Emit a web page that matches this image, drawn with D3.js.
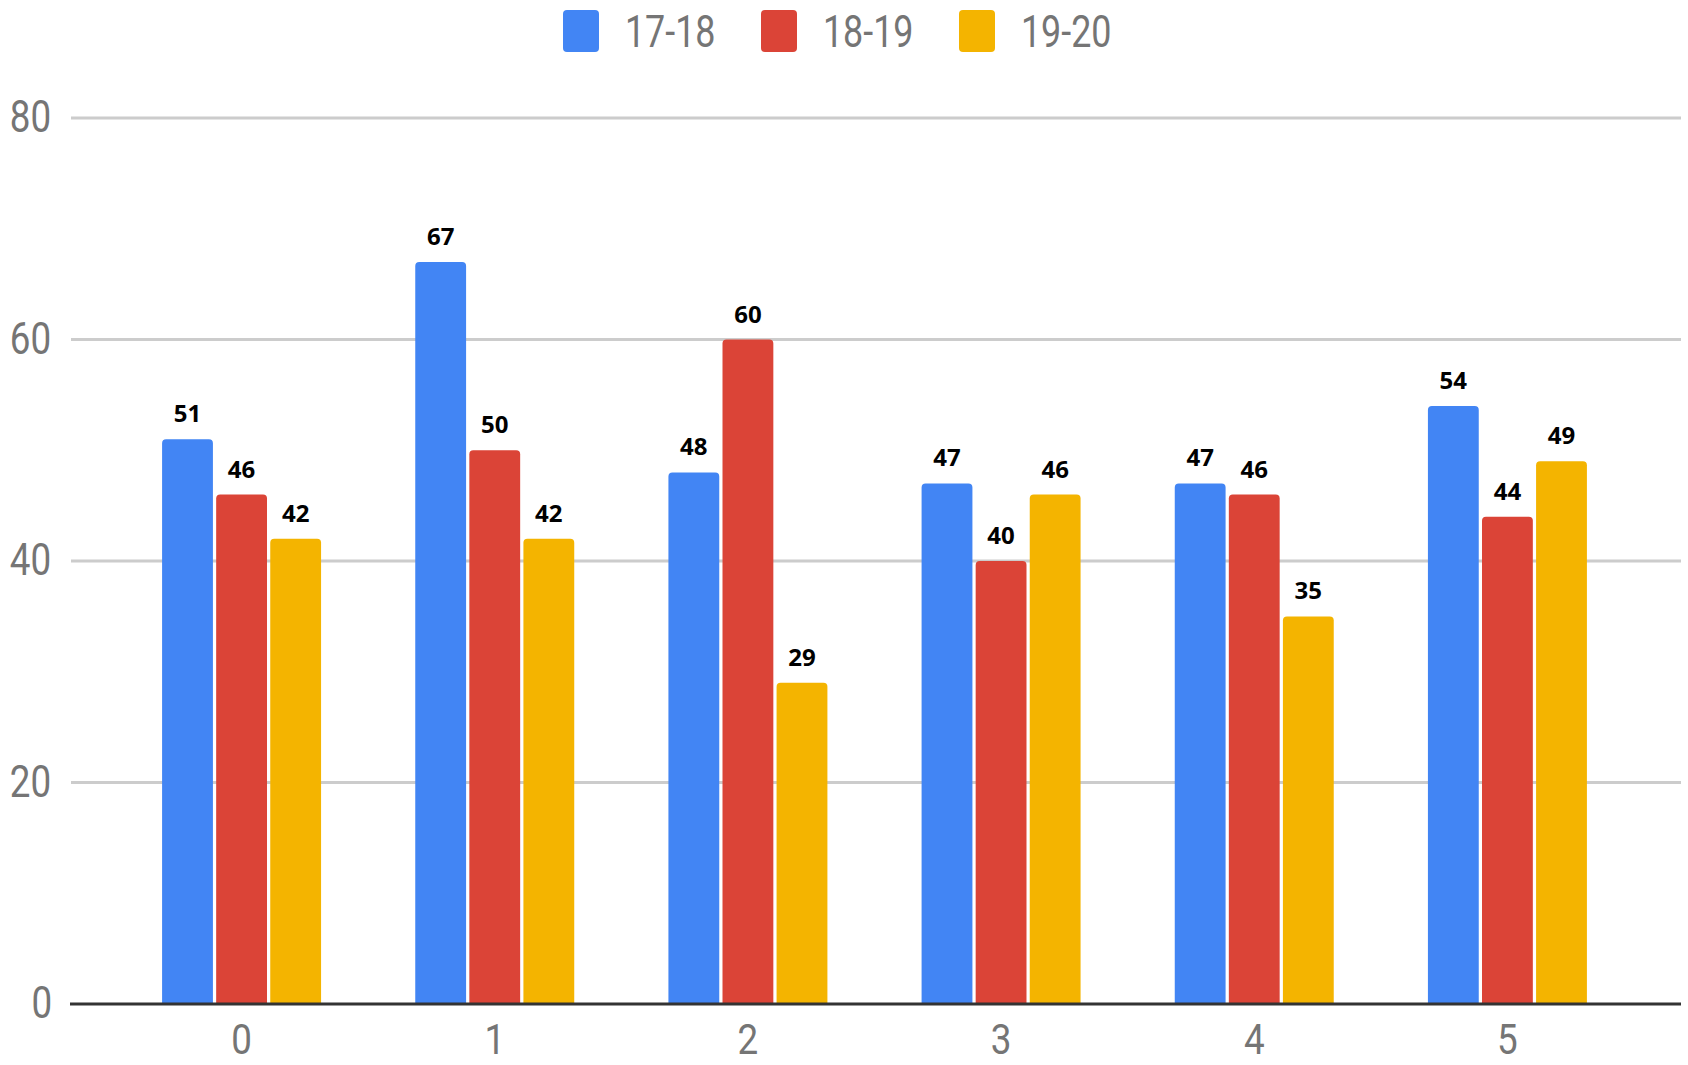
<!DOCTYPE html>
<html>
<head>
<meta charset="utf-8">
<script src="https://cdn.jsdelivr.net/npm/d3@7"></script>
<style>
  html, body { margin: 0; padding: 0; background: #fff; }
  svg { display: block; }
  .stretch { transform-box: fill-box; transform-origin: center; transform: scale(0.92, 1.12); }
  .narrow { transform-box: fill-box; transform-origin: center; transform: scale(0.92, 1.04); }
</style>
</head>
<body>
<svg id="chart" width="1688" height="1065"></svg>
<script>
// ---- data ----
const categories = ["0", "1", "2", "3", "4", "5"];
const seriesNames = ["17-18", "18-19", "19-20"];
const values1718 = [51, 67, 48, 47, 47, 54];
const values1819 = [46, 50, 60, 40, 46, 44];
const values1920 = [42, 42, 29, 46, 35, 49];
const yTicks = [0, 20, 40, 60, 80];
const colors = ["#4285F4", "#DB4437", "#F4B400"];

const seriesValues = [values1718, values1819, values1920];
const rows = categories.map((c, i) => ({
  cat: c,
  vals: seriesNames.map((s, j) => ({ series: s, value: seriesValues[j][i], color: colors[j] }))
}));

// ---- layout ----
const svg = d3.select("#chart");
const gridLeft = 71, gridRight = 1681;
const x0 = d3.scaleBand().domain(categories).range([115, 1634]).paddingInner(0.372).paddingOuter(0.186);
const x1 = d3.scaleBand().domain(seriesNames).range([0, x0.bandwidth()]).paddingInner(0.06);
const y = d3.scaleLinear().domain([0, 80]).range([1004, 118]);

// gridlines + y tick labels
const yAxis = d3.axisLeft(y).tickValues(yTicks).tickSize(0).tickPadding(18);
const gy = svg.append("g").attr("transform", `translate(${gridLeft},0)`).call(yAxis);
gy.select(".domain").remove();
gy.selectAll("text")
  .attr("class", "stretch")
  .attr("font-family", "Roboto, sans-serif")
  .attr("font-size", 40)
  .attr("fill", "#757575")
  .attr("dy", "0.3em");
svg.append("g").selectAll("line")
  .data(yTicks.filter(t => t !== 0))
  .join("line")
  .attr("x1", gridLeft).attr("x2", gridRight)
  .attr("y1", d => y(d)).attr("y2", d => y(d))
  .attr("stroke", "#cccccc").attr("stroke-width", 3);

// bars
function topRounded(x, yTop, w, h, r) {
  r = Math.min(r, h, w / 2);
  const p = d3.path();
  p.moveTo(x, yTop + h);
  p.lineTo(x, yTop + r);
  p.arcTo(x, yTop, x + r, yTop, r);
  p.lineTo(x + w - r, yTop);
  p.arcTo(x + w, yTop, x + w, yTop + r, r);
  p.lineTo(x + w, yTop + h);
  p.closePath();
  return p.toString();
}

const groups = svg.append("g").selectAll("g")
  .data(rows).join("g")
  .attr("transform", d => `translate(${x0(d.cat)},0)`);

groups.selectAll("path")
  .data(d => d.vals).join("path")
  .attr("d", d => topRounded(x1(d.series), y(d.value), x1.bandwidth(), y(0) - y(d.value), 4))
  .attr("fill", d => d.color);

groups.selectAll("text")
  .data(d => d.vals).join("text")
  .attr("x", d => x1(d.series) + x1.bandwidth() / 2)
  .attr("y", d => y(d.value) - 17)
  .attr("text-anchor", "middle")
  .attr("font-family", "'Open Sans', sans-serif")
  .attr("font-weight", 700)
  .attr("font-size", 24)
  .attr("fill", "#000")
  .text(d => d.value);

// baseline + x axis
const xAxis = d3.axisBottom(x0).tickSize(0).tickPadding(21);
const gx = svg.append("g").attr("transform", `translate(0,${y(0)})`).call(xAxis);
gx.select(".domain").remove();
gx.selectAll("text")
  .attr("class", "narrow")
  .attr("font-family", "Roboto, sans-serif")
  .attr("font-size", 40)
  .attr("fill", "#757575");
svg.append("line")
  .attr("x1", 70).attr("x2", gridRight)
  .attr("y1", y(0)).attr("y2", y(0))
  .attr("stroke", "#333333").attr("stroke-width", 3);

// legend
const legendX = [563, 761, 959];
const legend = svg.append("g").selectAll("g")
  .data(seriesNames).join("g")
  .attr("transform", (d, i) => `translate(${legendX[i]},10)`);
legend.append("rect")
  .attr("width", 36).attr("height", 42).attr("rx", 4)
  .attr("fill", (d, i) => colors[i]);
legend.append("text")
  .attr("class", "stretch")
  .attr("x", 58).attr("y", 35)
  .attr("font-family", "Roboto, sans-serif")
  .attr("font-size", 39)
  .attr("fill", "#757575")
  .text(d => d);
</script>
</body>
</html>
